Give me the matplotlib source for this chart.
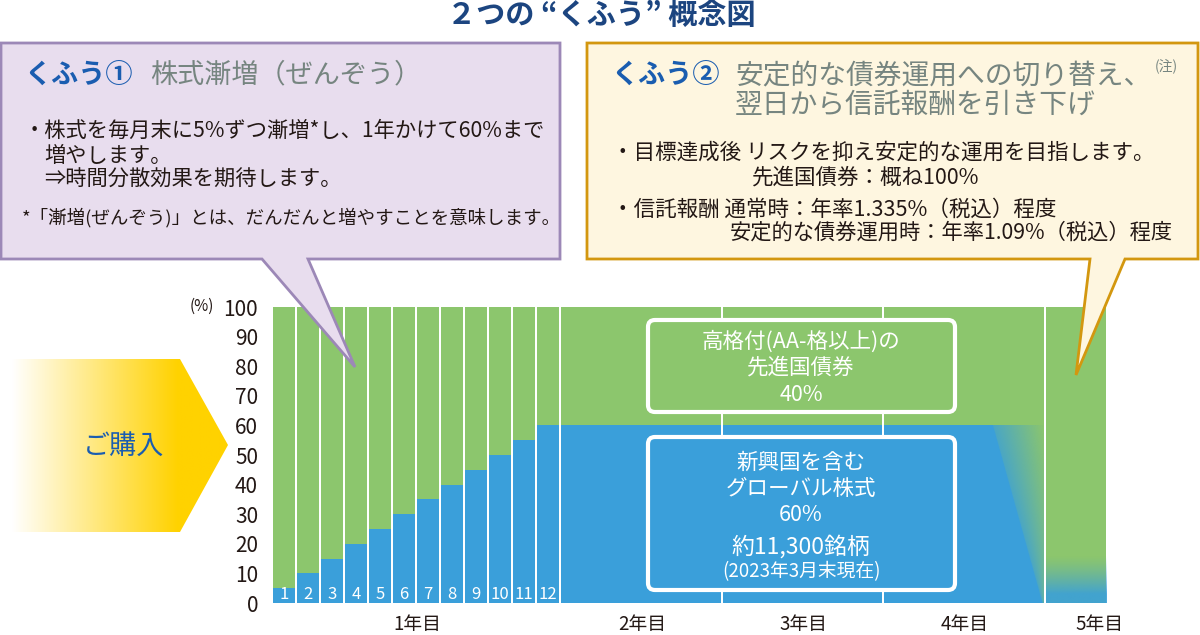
import numpy as np
import matplotlib
matplotlib.use('Agg')
import matplotlib.pyplot as plt
from matplotlib.patches import Polygon, FancyBboxPatch
from matplotlib.colors import to_rgb

plt.rcParams['font.family'] = ['Noto Sans CJK JP', 'DejaVu Sans']

# ---- data ----
month_labels = ['1', '2', '3', '4', '5', '6', '7', '8', '9', '10', '11', '12']
month_stock = [5, 10, 15, 20, 25, 30, 35, 40, 45, 50, 55, 60]
month_bond = [95, 90, 85, 80, 75, 70, 65, 60, 55, 50, 45, 40]
year_stock = [60, 60, 60]      # 2年目 - 4年目
year_bond = [40, 40, 40]
last_stock = [0]               # 5年目
last_bond = [100]
year_labels = ['1年目', '2年目', '3年目', '4年目', '5年目']
yticks = [0, 10, 20, 30, 40, 50, 60, 70, 80, 90, 100]

GREEN = '#8CC66D'
BLUE = '#3A9FDA'
INK = '#231815'
W, H = 1200, 635

# layout of the x axis (one month = 1 unit)
YEAR_W = 6.73
LAST_W = 2.51
year_left = [12 + i * YEAR_W for i in range(len(year_stock))]
last_left = year_left[-1] + YEAR_W
x_end = last_left + LAST_W

fig = plt.figure(figsize=(12, 6.35), dpi=100)

# ---- chart ----
ax = fig.add_axes([273.3 / W, 1 - 603 / H, (1106 - 273.3) / W, (603 - 307) / H])
mx = np.arange(len(month_stock))
ax.bar(mx, month_stock, width=0.91, align='edge', color=BLUE, linewidth=0)
ax.bar(mx, month_bond, bottom=month_stock, width=0.91, align='edge', color=GREEN, linewidth=0)
ax.bar(year_left, year_stock, width=YEAR_W - 0.09, align='edge', color=BLUE, linewidth=0)
ax.bar(year_left, year_bond, bottom=year_stock, width=YEAR_W - 0.09, align='edge', color=GREEN, linewidth=0)
ax.bar([last_left], last_bond, bottom=last_stock, width=LAST_W, align='edge', color=GREEN, linewidth=0)

for i, lab in enumerate(month_labels):
    ax.text(mx[i] + 0.455, 2.8, lab, color='white', fontsize=12, ha='center', va='center')

# fade of the stock part at the end of year 4
x0 = year_left[-1] + YEAR_W - 2.2
x1 = year_left[-1] + YEAR_W - 0.09
gx = np.linspace(x0, x1, 300)
gy = np.linspace(0, year_stock[-1], 200)
GX, GY = np.meshgrid(gx, gy)
t = GY / year_stock[-1]
edge = x0 + (1 - t) * 2.05
a = np.where(GX < edge, 0.0, 0.2 + 0.8 * np.clip((GX - edge) / np.maximum(x1 - edge, 1e-3), 0, 1) * (0.4 + 0.6 * t))
img = np.zeros(GX.shape + (4,))
img[..., :3] = to_rgb(GREEN)
img[..., 3] = a
ax.imshow(img, extent=[x0, x1, 0, year_stock[-1]], origin='lower', aspect='auto', zorder=3, interpolation='bilinear')

# blue residue at the bottom of year 5
ly = np.linspace(0, 16, 100)
la = np.clip(1 - (ly - 3) / 13, 0, 1) ** 1.3
limg = np.zeros((100, 2, 4))
limg[..., :3] = to_rgb(BLUE)
limg[..., 3] = la[:, None] * 0.9
ax.imshow(limg, extent=[last_left, x_end, 0, 16], origin='lower', aspect='auto', zorder=3)

ax.set_xlim(0, x_end)
ax.set_ylim(0, 100)
for s in ax.spines.values():
    s.set_visible(False)
ax.set_yticks(yticks)
ax.tick_params(axis='y', length=0, pad=11, labelsize=15, labelcolor=INK)
year_pos = [6] + [yl + YEAR_W / 2 for yl in year_left] + [x_end - 0.27]
ax.set_xticks(year_pos, year_labels)
ax.tick_params(axis='x', length=0, pad=8, labelsize=13.5, labelcolor=INK)

# ---- overlay in pixel coordinates ----
ov = fig.add_axes([0, 0, 1, 1])
ov.set_xlim(0, W)
ov.set_ylim(H, 0)
ov.axis('off')

ov.text(601, 15, '２つの “くふう” 概念図', fontsize=21, fontweight='bold', color='#1C4580',
        ha='center', va='center')

# left callout
left_box = Polygon([(1, 43), (560, 43), (560, 259), (308, 259), (355, 367), (262, 259), (1, 259)],
                   closed=True, facecolor='#E8DDEE', edgecolor='#9C88B7', linewidth=2, joinstyle='miter')
ov.add_patch(left_box)
ov.text(25, 75, 'くふう①', fontsize=19.5, fontweight='bold', color='#1A5DB0', va='center')
ov.text(150, 75, '株式漸増（ぜんぞう）', fontsize=19.5, color='#768580', va='center')
ov.text(24, 131, '・株式を毎月末に5%ずつ漸増*し、1年かけて60%まで', fontsize=15.3, color=INK, va='center')
ov.text(44, 156, '増やします。', fontsize=15.3, color=INK, va='center')
ov.text(44, 180, '⇒時間分散効果を期待します。', fontsize=15.3, color=INK, va='center')
ov.text(22, 218, '*「漸増(ぜんぞう)」とは、だんだんと増やすことを意味します。', fontsize=13.3, color=INK, va='center')

# right callout
right_box = Polygon([(587, 43), (1198, 43), (1198, 259), (1125, 259), (1076, 375), (1090, 259), (587, 259)],
                    closed=True, facecolor='#FEF6E0', edgecolor='#D3970F', linewidth=2, joinstyle='miter')
ov.add_patch(right_box)
ov.text(612, 75, 'くふう②', fontsize=19.5, fontweight='bold', color='#1A5DB0', va='center')
ov.text(735, 75, '安定的な債券運用への切り替え、', fontsize=20, color='#768580', va='center')
ov.text(1155, 66, '(注)', fontsize=10, color='#768580', va='center')
ov.text(735, 105, '翌日から信託報酬を引き下げ', fontsize=20, color='#768580', va='center')
ov.text(612, 153, '・目標達成後 リスクを抑え安定的な運用を目指します。', fontsize=15.5, color=INK, va='center')
ov.text(752, 178, '先進国債券：概ね100%', fontsize=15.5, color=INK, va='center')
ov.text(612, 210, '・信託報酬 通常時：年率1.335%（税込）程度', fontsize=15.5, color=INK, va='center')
ov.text(730, 233, '安定的な債券運用時：年率1.09%（税込）程度', fontsize=15.3, color=INK, va='center')

# purchase arrow
arrow = Polygon([(0, 359), (180, 359), (228, 445), (180, 532), (0, 532)], closed=True,
                facecolor='none', edgecolor='none')
ov.add_patch(arrow)
xs = np.linspace(0, 228, 300)
ramp = np.clip((xs - 12) / (178 - 12), 0, 1)
c0 = np.array(to_rgb('#FFFFFF'))
c1 = np.array(to_rgb('#FFD200'))
grad = (c0[None, :] * (1 - ramp[:, None]) + c1[None, :] * ramp[:, None])[None, :, :]
gi = ov.imshow(grad, extent=[0, 228, 532, 359], aspect='auto', zorder=1)
gi.set_clip_path(arrow)
ov.text(124, 446, 'ご購入', fontsize=19.5, color='#1A5DB0', ha='center', va='center', zorder=2)

ov.text(202, 306, '(%)', fontsize=11, color=INK, ha='center', va='center')

# boxes inside the chart
for (y0, y1, fc) in [(320, 412, GREEN), (437, 590, BLUE)]:
    ov.add_patch(FancyBboxPatch((648, y0), 307, y1 - y0, boxstyle='round,pad=0,rounding_size=7',
                                facecolor=fc, edgecolor='white', linewidth=3, zorder=4))
for y, s, fs in [(342, '高格付(AA-格以上)の', 15.5), (368, '先進国債券', 15.5), (395, '40%', 15.5),
                 (463, '新興国を含む', 15.5), (489, 'グローバル株式', 15.5), (515, '60%', 15.5),
                 (547, '約11,300銘柄', 16.5), (572, '(2023年3月末現在)', 13.5)]:
    ov.text(801, y, s, fontsize=fs, color='white', ha='center', va='center', zorder=5)

ov.set_xlim(0, W)
ov.set_ylim(H, 0)

fig.savefig('out.png', dpi=100)
